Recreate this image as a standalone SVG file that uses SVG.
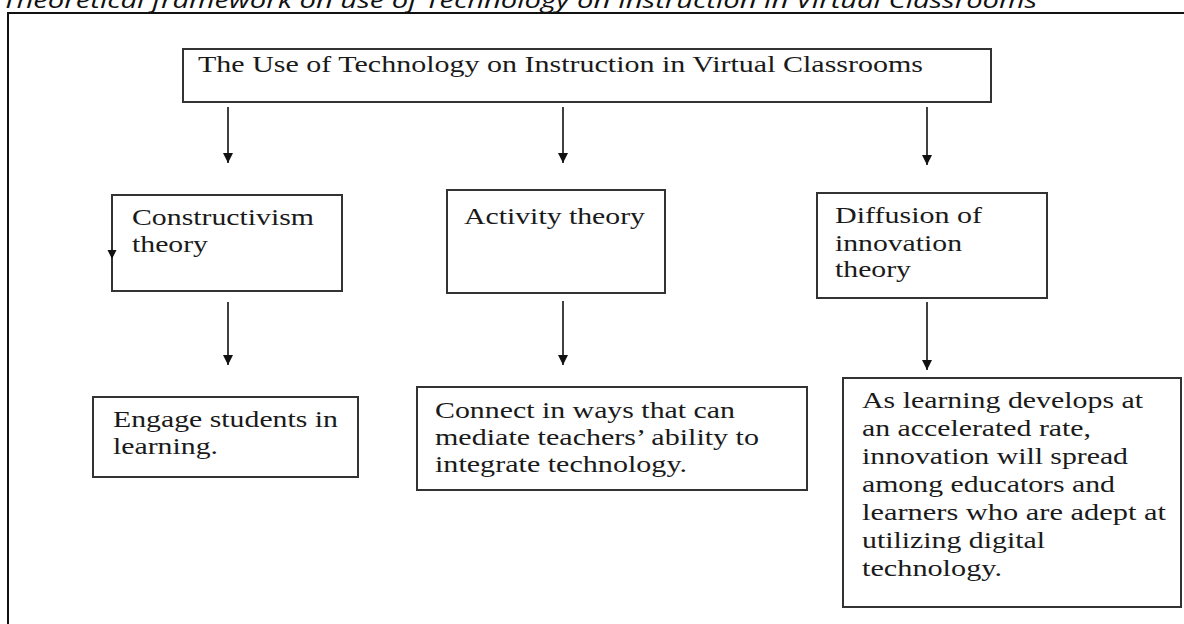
<svg xmlns="http://www.w3.org/2000/svg" width="1184" height="624" viewBox="0 0 1184 624">
<defs>
<marker id="ah" viewBox="0 0 10 10" refX="10" refY="5" markerWidth="10" markerHeight="10" markerUnits="userSpaceOnUse" orient="auto">
<path d="M0,0 L10,5 L0,10 Z" fill="#111"/>
</marker>
</defs>
<style>
.box{fill:#fff;stroke:#333;stroke-width:2}
.t{font-family:"Liberation Serif","Times New Roman",serif;font-size:22.6px;fill:#1a1a1a}
.cap{font-family:"Open Sans","Liberation Sans",sans-serif;font-style:italic;font-size:22px;fill:#111}
.c{stroke:#111;stroke-width:1.6;fill:none;marker-end:url(#ah)}
</style>
<rect width="1184" height="624" fill="#fff"/>
<text class="cap" x="2" y="8" textLength="1035" lengthAdjust="spacingAndGlyphs">Theoretical framework on use of Technology on Instruction in Virtual Classrooms</text>
<path d="M8,624 V13 H1184" fill="none" stroke="#111" stroke-width="2"/>
<g id="title">
<rect class="box" x="183" y="49" width="808" height="53"/>
<text class="t" x="198" y="72" textLength="725" lengthAdjust="spacingAndGlyphs">The Use of Technology on Instruction in Virtual Classrooms</text>
</g>
<g id="constructivism">
<rect class="box" x="112" y="195" width="230" height="96"/>
<text class="t" x="132" y="225" textLength="182" lengthAdjust="spacingAndGlyphs">Constructivism</text>
<text class="t" x="132" y="252" textLength="76" lengthAdjust="spacingAndGlyphs">theory</text>
<path d="M107.5,250 L116.5,250 L112,259 Z" fill="#111"/>
</g>
<g id="activity">
<rect class="box" x="447" y="190" width="218" height="103"/>
<text class="t" x="464" y="224" textLength="181" lengthAdjust="spacingAndGlyphs">Activity theory</text>
</g>
<g id="diffusion">
<rect class="box" x="817" y="193" width="230" height="105"/>
<text class="t" x="835" y="223" textLength="147" lengthAdjust="spacingAndGlyphs">Diffusion of</text>
<text class="t" x="835" y="251" textLength="127" lengthAdjust="spacingAndGlyphs">innovation</text>
<text class="t" x="835" y="277" textLength="76" lengthAdjust="spacingAndGlyphs">theory</text>
</g>
<g id="engage">
<rect class="box" x="93" y="397" width="265" height="80"/>
<text class="t" x="113" y="427" textLength="225" lengthAdjust="spacingAndGlyphs">Engage students in</text>
<text class="t" x="113" y="454" textLength="105" lengthAdjust="spacingAndGlyphs">learning.</text>
</g>
<g id="connect">
<rect class="box" x="417" y="387" width="390" height="103"/>
<text class="t" x="435" y="418" textLength="300" lengthAdjust="spacingAndGlyphs">Connect in ways that can</text>
<text class="t" x="435" y="445" textLength="324" lengthAdjust="spacingAndGlyphs">mediate teachers’ ability to</text>
<text class="t" x="435" y="472" textLength="252" lengthAdjust="spacingAndGlyphs">integrate technology.</text>
</g>
<g id="spread">
<rect class="box" x="843" y="378" width="338" height="229"/>
<text class="t" x="862" y="408" textLength="281" lengthAdjust="spacingAndGlyphs">As learning develops at</text>
<text class="t" x="862" y="436" textLength="229" lengthAdjust="spacingAndGlyphs">an accelerated rate,</text>
<text class="t" x="862" y="464" textLength="266" lengthAdjust="spacingAndGlyphs">innovation will spread</text>
<text class="t" x="862" y="492" textLength="253" lengthAdjust="spacingAndGlyphs">among educators and</text>
<text class="t" x="862" y="520" textLength="304" lengthAdjust="spacingAndGlyphs">learners who are adept at</text>
<text class="t" x="862" y="548" textLength="183" lengthAdjust="spacingAndGlyphs">utilizing digital</text>
<text class="t" x="862" y="576" textLength="140" lengthAdjust="spacingAndGlyphs">technology.</text>
</g>
<g id="connectors">
<path class="c" d="M228,107 V163"/>
<path class="c" d="M563,107 V163"/>
<path class="c" d="M927,107 V165"/>
<path class="c" d="M228,302 V365"/>
<path class="c" d="M563,301 V365"/>
<path class="c" d="M927,302 V370"/>
</g>
</svg>
